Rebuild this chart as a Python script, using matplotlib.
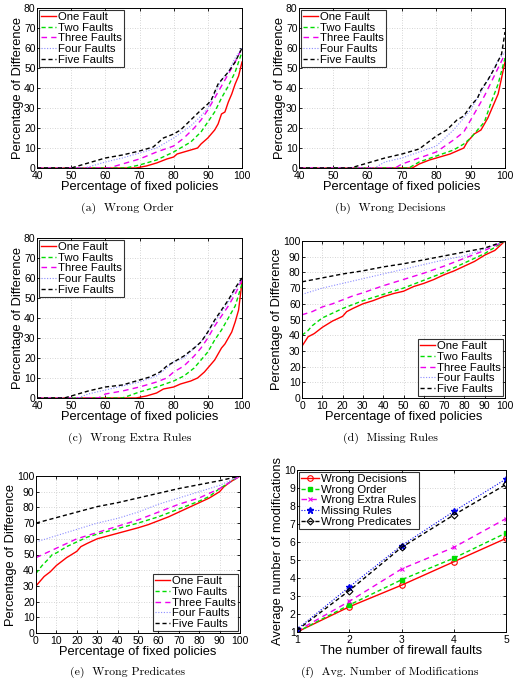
import matplotlib
matplotlib.use("Agg")
import matplotlib.pyplot as plt
import numpy as np

plt.rcParams['font.family'] = ['Liberation Sans', 'DejaVu Sans']

W, H = 519, 686

series_names = ["One Fault", "Two Faults", "Three Faults", "Four Faults", "Five Faults"]

# (a) Wrong Order
a_one_x = [40, 69, 72, 75, 78, 80, 81, 85, 87, 88, 90, 92, 93, 94, 95, 96, 97, 98, 99, 100]
a_one_y = [0, 0, 1, 2.5, 4.5, 5.5, 7, 9, 10, 12, 15, 19, 22, 27, 28, 33, 37, 42, 46, 53]
a_two_x = [40, 66, 70, 75, 80, 85, 88, 90, 92, 94, 96, 98, 100]
a_two_y = [0, 0, 1.5, 4, 8, 13, 18, 23, 28, 35, 41, 48, 58]
a_three_x = [40, 61, 65, 70, 75, 80, 83, 86, 88, 90, 92, 94, 96, 98, 100]
a_three_y = [0, 0, 2, 4.5, 8, 11, 15, 20, 24, 29, 35, 41, 47, 53, 60]
a_four_x = [40, 54, 60, 65, 70, 75, 78, 80, 85, 88, 90, 92, 94, 96, 98, 100]
a_four_y = [0, 0, 3, 5, 7.5, 10, 13, 15, 21, 26, 30, 37, 44, 48, 55, 60]
a_five_x = [40, 50, 55, 60, 65, 70, 74, 77, 80, 82, 85, 88, 90, 91, 92, 93, 95, 96, 98, 100]
a_five_y = [0, 0, 2.5, 5, 6.5, 8.5, 10.5, 15, 17, 19, 24, 29, 32, 34, 38, 42, 46, 48, 53, 60]

# (b) Wrong Decisions
b_one_x = [40, 73, 75, 78, 80, 84, 86, 88, 89, 90, 91, 93, 94, 95, 96, 97, 98, 99, 100]
b_one_y = [0, 0, 2, 4, 5, 7, 8.5, 10, 13, 15, 17, 19, 22, 25, 29, 33, 37, 45, 53]
b_two_x = [40, 72, 75, 80, 85, 88, 90, 92, 94, 95, 96, 98, 100]
b_two_y = [0, 0, 3, 6, 9, 12, 15, 19, 23, 28, 33, 42, 55]
b_three_x = [40, 68, 70, 75, 80, 85, 88, 90, 92, 94, 96, 98, 100]
b_three_y = [0, 0, 2, 5, 8, 14, 18, 24, 30, 36, 43, 50, 57]
b_four_x = [40, 62, 65, 70, 75, 80, 85, 88, 90, 92, 94, 96, 98, 100]
b_four_y = [0, 0, 3, 5, 8, 11, 19, 25, 29, 35, 41, 47, 54, 58]
b_five_x = [40, 55, 60, 65, 70, 75, 80, 83, 86, 88, 90, 92, 93, 95, 97, 99, 100]
b_five_y = [0, 0, 2.5, 5, 7, 9.5, 16, 19, 24, 26, 31, 35, 39, 44, 50, 57, 68]

# (c) Wrong Extra Rules
c_one_x = [40, 69, 72, 75, 77, 80, 82, 85, 87, 89, 90, 91, 92, 93, 94, 95, 96, 97, 98, 99, 100]
c_one_y = [0, 0, 1, 2.5, 4.5, 5.5, 7, 8.5, 10, 13, 15, 17, 19, 22, 25, 27, 30, 33, 38, 44, 58]
c_two_x = [40, 65, 70, 75, 80, 83, 86, 88, 90, 92, 94, 96, 98, 100]
c_two_y = [0, 0, 3, 5.5, 8.5, 11, 15, 19, 23, 29, 34, 40, 46, 57]
c_three_x = [40, 58, 60, 65, 70, 75, 78, 80, 83, 86, 88, 90, 92, 94, 96, 98, 100]
c_three_y = [0, 0, 2, 3.5, 5.5, 8, 10, 13, 16, 21, 25, 30, 36, 41, 46, 52, 59]
c_four_x = [40, 52, 55, 60, 65, 70, 75, 78, 80, 83, 86, 88, 90, 92, 94, 96, 98, 100]
c_four_y = [0, 0, 2, 4, 6, 8, 11, 15, 18, 20, 25, 28, 33, 38, 43, 48, 54, 60]
c_five_x = [40, 48, 50, 55, 60, 65, 70, 73, 76, 78, 80, 83, 86, 88, 90, 92, 94, 96, 98, 100]
c_five_y = [0, 0, 1, 3.5, 5.5, 6.5, 9, 10.5, 13, 16, 18, 21, 25, 28, 33, 39, 44, 49, 55, 60]

# (d) Missing Rules
d_one_x = [0, 1, 3, 6, 10, 15, 20, 22, 25, 30, 35, 40, 45, 50, 55, 60, 65, 70, 75, 80, 85, 90, 95, 100]
d_one_y = [33, 35, 39, 41, 45, 49, 52, 55, 57, 60, 62, 64.5, 66.5, 68, 71, 73, 75.5, 78.5, 81, 84, 87, 91, 94, 100]
d_two_x = [0, 3, 5, 8, 10, 15, 20, 25, 30, 40, 50, 60, 70, 80, 90, 100]
d_two_y = [40, 43, 46, 49, 51, 54, 57, 59.5, 62, 66, 70, 75, 80, 86, 92, 100]
d_three_x = [0, 5, 10, 15, 20, 25, 30, 40, 50, 60, 70, 80, 90, 100]
d_three_y = [53, 55, 58, 60, 62.5, 65, 67, 71.5, 75.5, 79.5, 84, 89, 94, 100]
d_four_x = [0, 5, 10, 20, 30, 40, 50, 60, 70, 80, 90, 100]
d_four_y = [66, 68, 70, 73, 76, 79, 82, 85, 88, 90.5, 95, 100]
d_five_x = [0, 10, 20, 30, 40, 50, 60, 70, 80, 90, 100]
d_five_y = [74, 76.5, 79, 81, 83.5, 85.5, 88, 90.5, 93, 95.5, 100]

# (e) Wrong Predicates
e_one_x = [0, 2, 4, 7, 10, 15, 20, 22, 25, 30, 40, 50, 55, 60, 65, 70, 75, 80, 85, 90, 92, 95, 100]
e_one_y = [30, 33, 36, 39, 43, 48, 52, 55, 57, 60, 63.5, 67, 69, 71.5, 74, 77, 80, 83, 86, 90, 93, 96, 100]
e_two_x = [0, 3, 6, 8, 10, 15, 20, 25, 30, 40, 50, 60, 70, 80, 85, 90, 95, 100]
e_two_y = [38, 43, 47, 50, 51, 55, 58, 61, 63, 66.5, 70, 74, 79, 84, 87, 92, 96, 100]
e_three_x = [0, 5, 10, 15, 20, 30, 40, 50, 60, 70, 80, 90, 100]
e_three_y = [48, 51, 54, 57, 60, 64, 68, 72, 77, 82, 86, 92, 100]
e_four_x = [0, 5, 10, 20, 30, 40, 50, 60, 70, 80, 90, 100]
e_four_y = [58, 60, 62, 66, 70, 73, 77, 82, 86, 90, 94, 100]
e_five_x = [0, 10, 20, 30, 40, 50, 60, 70, 80, 90, 100]
e_five_y = [70, 73.5, 77, 80.5, 83, 86, 89, 92, 94.5, 97, 100]

# (f) Avg. number of modifications
f_faults = [1, 2, 3, 4, 5]
f_names = ["Wrong Decisions", "Wrong Order", "Wrong Extra Rules", "Missing Rules", "Wrong Predicates"]
f_decisions = [1.0, 2.4, 3.6, 4.9, 6.2]
f_order = [1.0, 2.5, 3.9, 5.1, 6.5]
f_extra = [1.05, 2.7, 4.5, 5.7, 7.3]
f_missing = [1.15, 3.5, 5.8, 7.7, 9.5]
f_predicates = [1.1, 3.3, 5.7, 7.5, 9.2]

styles = [
    dict(color='#ff0000', ls='-', lw=1.0),
    dict(color='#00dd00', ls=(0, (3, 2)), lw=1.0),
    dict(color='#ee00ee', ls=(0, (4, 3)), lw=1.0),
    dict(color='#8c8cff', ls=(0, (1, 1.5)), lw=0.8),
    dict(color='#000000', ls=(0, (3, 2)), lw=1.0),
]

fig = plt.figure(figsize=(W / 100, H / 100), dpi=100)

LABEL_FS = 9.3
TICK_FS = 7.5
LEG_FS = 8.2


def rect(l, t, r, b):
    return [l / W, 1 - b / H, (r - l) / W, (b - t) / H]


def style_axes(ax):
    ax.grid(True, color='#c8c8c8', ls=(0, (1, 2)), lw=0.6)
    ax.set_axisbelow(True)
    ax.tick_params(direction='in', labelsize=TICK_FS, length=2.5, width=0.6, top=True, right=True)
    ax.tick_params(axis='x', pad=2.2)
    ax.tick_params(axis='y', pad=1.0)
    for s in ax.spines.values():
        s.set_linewidth(0.7)


def caption(x, y, text):
    fig.text(x / W, 1 - y / H, text, ha='center', va='center', fontsize=8.5, family='cmr10')


def make_legend(ax, loc, hl):
    leg = ax.legend(loc=loc, fontsize=LEG_FS, frameon=True, fancybox=False, edgecolor='black',
                    borderpad=0.2, labelspacing=0.06, handlelength=hl, handletextpad=0.2,
                    borderaxespad=0.15)
    leg.get_frame().set_linewidth(0.8)
    return leg


def fault_panel(r, xs, ys, xlim, xticks, ylim, yticks, legloc, cap, cappos):
    ax = fig.add_axes(rect(*r))
    for name, x, y, st in zip(series_names, xs, ys, styles):
        ax.plot(x, y, label=name, **st)
    ax.set_xlim(*xlim)
    ax.set_ylim(*ylim)
    ax.set_xticks(xticks)
    ax.set_yticks(yticks)
    style_axes(ax)
    ax.set_xlabel("Percentage of fixed policies", fontsize=LABEL_FS, labelpad=0)
    ax.set_ylabel("Percentage of Difference", fontsize=LABEL_FS, labelpad=0)
    make_legend(ax, legloc, 1.3)
    caption(*cappos, cap)
    return ax


fault_panel((37, 8, 242, 168),
            [a_one_x, a_two_x, a_three_x, a_four_x, a_five_x],
            [a_one_y, a_two_y, a_three_y, a_four_y, a_five_y],
            (40, 100), [40, 50, 60, 70, 80, 90, 100], (0, 80), range(0, 81, 10),
            'upper left', "(a)  Wrong Order", (127, 208))
fault_panel((299, 8, 505, 168),
            [b_one_x, b_two_x, b_three_x, b_four_x, b_five_x],
            [b_one_y, b_two_y, b_three_y, b_four_y, b_five_y],
            (40, 100), [40, 50, 60, 70, 80, 90, 100], (0, 80), range(0, 81, 10),
            'upper left', "(b)  Wrong Decisions", (390, 208))
fault_panel((37, 238, 242, 398),
            [c_one_x, c_two_x, c_three_x, c_four_x, c_five_x],
            [c_one_y, c_two_y, c_three_y, c_four_y, c_five_y],
            (40, 100), [40, 50, 60, 70, 80, 90, 100], (0, 80), range(0, 81, 10),
            'upper left', "(c)  Wrong Extra Rules", (130, 438))
fault_panel((302, 241, 505, 398),
            [d_one_x, d_two_x, d_three_x, d_four_x, d_five_x],
            [d_one_y, d_two_y, d_three_y, d_four_y, d_five_y],
            (0, 100), range(0, 101, 10), (0, 100), range(0, 101, 10),
            'lower right', "(d)  Missing Rules", (390, 438))
fault_panel((36, 476, 240, 633),
            [e_one_x, e_two_x, e_three_x, e_four_x, e_five_x],
            [e_one_y, e_two_y, e_three_y, e_four_y, e_five_y],
            (0, 100), range(0, 101, 10), (0, 100), range(0, 101, 10),
            'lower right', "(e)  Wrong Predicates", (127, 672))

# (f)
ax = fig.add_axes(rect(297, 470, 506, 632))
f_vals = [f_decisions, f_order, f_extra, f_missing, f_predicates]
f_styles = [
    dict(color='#ff0000', ls='-', marker='o', mfc='none', ms=4, lw=1.0, mew=0.8),
    dict(color='#00dd00', ls=(0, (3, 2)), marker='s', mfc='#00dd00', ms=3.5, lw=1.0),
    dict(color='#ee00ee', ls=(0, (4, 3)), marker='x', ms=3.5, lw=1.0, mew=0.8),
    dict(color='#0000ee', ls=(0, (1, 1.5)), marker='*', ms=5, lw=0.8),
    dict(color='#000000', ls=(0, (3, 2)), marker='D', mfc='none', ms=3.5, lw=1.0, mew=0.8),
]
for name, v, st in zip(f_names, f_vals, f_styles):
    ax.plot(f_faults, v, label=name, **st)
ax.set_xlim(1, 5)
ax.set_ylim(1, 10)
ax.set_xticks(f_faults)
ax.set_yticks(range(1, 11))
style_axes(ax)
ax.set_xlabel("The number of firewall faults", fontsize=LABEL_FS, labelpad=0)
ax.set_ylabel("Average number of modifications", fontsize=LABEL_FS, labelpad=0)
make_legend(ax, 'upper left', 1.6)
caption(390, 672, "(f)  Avg. Number of Modifications")

fig.savefig("out.png", dpi=100)
